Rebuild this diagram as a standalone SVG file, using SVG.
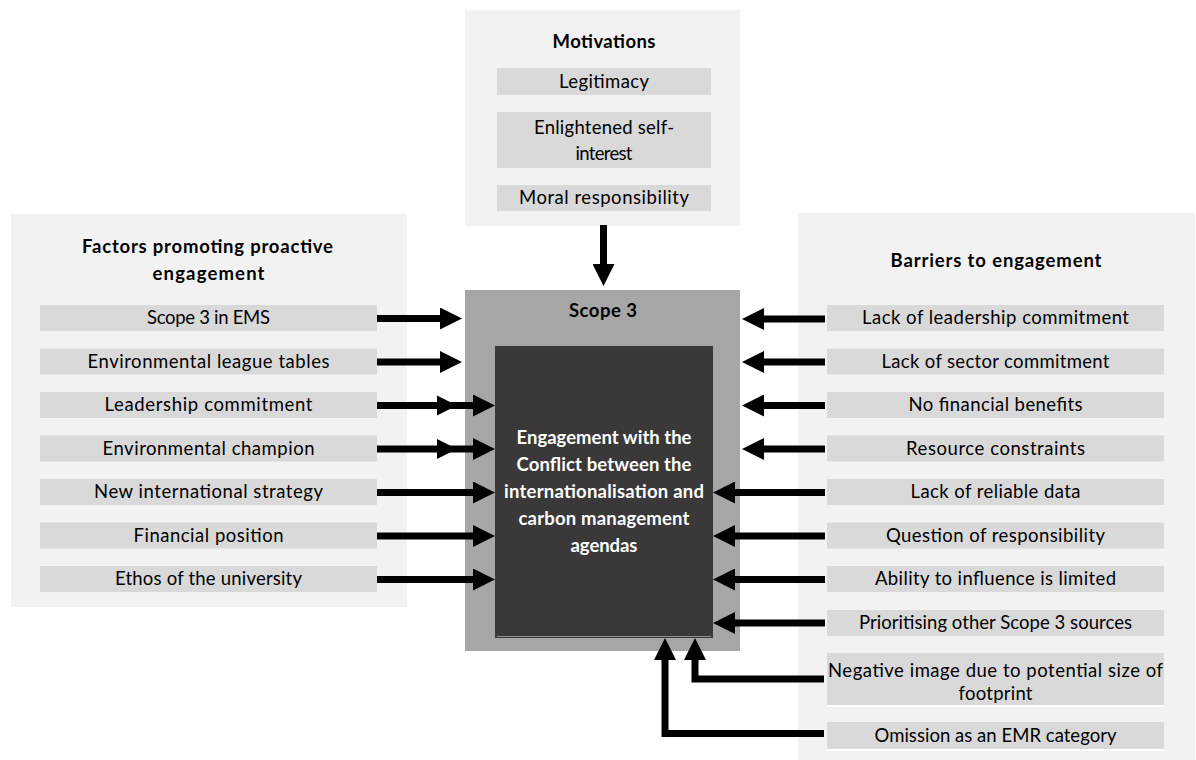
<svg xmlns="http://www.w3.org/2000/svg" width="1196" height="760" viewBox="0 0 1196 760">
  <defs>
    <style>
      .panel { fill: #f2f2f2; }
      .item { fill: #d9d9d9; }
      .txt { font-family: Lato, "Liberation Sans", sans-serif; font-size: 18.5px; fill: #000; text-anchor: middle; }
      .title { font-weight: bold; }
      .inv { fill: #ffffff; font-weight: bold; }
      .shaft { fill: none; stroke: #000; stroke-width: 7; stroke-linejoin: miter; stroke-linecap: butt; }
      .gap { fill: #ffffff; }
    </style>
    <marker id="head" markerUnits="userSpaceOnUse" viewBox="0 0 22 22" markerWidth="22" markerHeight="22" refX="0" refY="11" orient="auto">
      <path d="M0,0 L22,11 L0,22 Z" fill="#000"/>
    </marker>
  </defs>

  <rect width="1196" height="760" fill="#ffffff"/>

  <!-- Motivations column -->
  <g id="motivations">
    <rect class="panel" x="465" y="10" width="275" height="216"/>
    <text class="txt title" x="604" y="48" textLength="103" lengthAdjust="spacing">Motivations</text>
    <g id="mot-legitimacy">
      <rect class="item" x="497" y="68" width="214" height="27"/>
      <text class="txt" x="604" y="87.5" textLength="90" lengthAdjust="spacing">Legitimacy</text>
    </g>
    <g id="mot-self-interest">
      <rect class="item" x="497" y="112" width="214" height="56"/>
      <text class="txt" x="604" y="133.5" textLength="140" lengthAdjust="spacing">Enlightened self-</text>
      <text class="txt" x="604" y="160" textLength="57" lengthAdjust="spacing">interest</text>
    </g>
    <g id="mot-moral">
      <rect class="item" x="497" y="185" width="214" height="26"/>
      <text class="txt" x="604" y="204" textLength="170" lengthAdjust="spacing">Moral responsibility</text>
    </g>
  </g>

  <!-- Promoting factors column -->
  <g id="factors">
    <rect class="panel" x="11" y="214" width="396" height="393"/>
    <text class="txt title" x="207.5" y="252.7" textLength="251" lengthAdjust="spacing">Factors promoting proactive</text>
    <text class="txt title" x="208.5" y="280" textLength="112" lengthAdjust="spacing">engagement</text>
    <g id="f-ems">
      <rect class="item" x="40" y="305" width="337" height="26"/>
      <text class="txt" x="208.5" y="324.3" textLength="123" lengthAdjust="spacing">Scope 3 in EMS</text>
    </g>
    <g id="f-league">
      <rect class="item" x="40" y="348.5" width="337" height="26"/>
      <text class="txt" x="208.5" y="367.8" textLength="242" lengthAdjust="spacing">Environmental league tables</text>
    </g>
    <g id="f-leadership">
      <rect class="item" x="40" y="392" width="337" height="26"/>
      <text class="txt" x="208.5" y="411.3" textLength="208" lengthAdjust="spacing">Leadership commitment</text>
    </g>
    <g id="f-champion">
      <rect class="item" x="40" y="435.5" width="337" height="26"/>
      <text class="txt" x="208.5" y="454.8" textLength="212" lengthAdjust="spacing">Environmental champion</text>
    </g>
    <g id="f-strategy">
      <rect class="item" x="40" y="479" width="337" height="26"/>
      <text class="txt" x="208.5" y="498.3" textLength="229" lengthAdjust="spacing">New international strategy</text>
    </g>
    <g id="f-financial">
      <rect class="item" x="40" y="522.5" width="337" height="26"/>
      <text class="txt" x="208.5" y="541.8" textLength="150" lengthAdjust="spacing">Financial position</text>
    </g>
    <g id="f-ethos">
      <rect class="item" x="40" y="566" width="337" height="26"/>
      <text class="txt" x="208.5" y="585.3" textLength="187" lengthAdjust="spacing">Ethos of the university</text>
    </g>
  </g>

  <!-- Barriers column -->
  <g id="barriers">
    <rect class="panel" x="798" y="213" width="397" height="547"/>
    <text class="txt title" x="996" y="267" textLength="211" lengthAdjust="spacing">Barriers to engagement</text>
    <g id="b-leadership">
      <rect class="item" x="827" y="305" width="337" height="26"/>
      <text class="txt" x="995.5" y="324.3" textLength="267" lengthAdjust="spacing">Lack of leadership commitment</text>
    </g>
    <g id="b-sector">
      <rect class="item" x="827" y="348.5" width="337" height="26"/>
      <text class="txt" x="995.5" y="367.8" textLength="228" lengthAdjust="spacing">Lack of sector commitment</text>
    </g>
    <g id="b-benefits">
      <rect class="item" x="827" y="392" width="337" height="26"/>
      <text class="txt" x="995.5" y="411.3" textLength="174" lengthAdjust="spacing">No financial benefits</text>
    </g>
    <g id="b-resources">
      <rect class="item" x="827" y="435.5" width="337" height="26"/>
      <text class="txt" x="995.5" y="454.8" textLength="179" lengthAdjust="spacing">Resource constraints</text>
    </g>
    <g id="b-data">
      <rect class="item" x="827" y="479" width="337" height="26"/>
      <text class="txt" x="995.5" y="498.3" textLength="170" lengthAdjust="spacing">Lack of reliable data</text>
    </g>
    <g id="b-responsibility">
      <rect class="item" x="827" y="522.5" width="337" height="26"/>
      <text class="txt" x="995.5" y="541.8" textLength="219" lengthAdjust="spacing">Question of responsibility</text>
    </g>
    <g id="b-influence">
      <rect class="item" x="827" y="566" width="337" height="26"/>
      <text class="txt" x="995.5" y="585.3" textLength="241" lengthAdjust="spacing">Ability to influence is limited</text>
    </g>
    <g id="b-prioritising">
      <rect class="item" x="827" y="610" width="337" height="26"/>
      <text class="txt" x="995.5" y="629.3" textLength="273" lengthAdjust="spacing">Prioritising other Scope 3 sources</text>
    </g>
    <g id="b-image">
      <rect class="item" x="827" y="653" width="337" height="52"/>
      <rect class="gap" x="827" y="705" width="337" height="2"/>
      <text class="txt" x="995.5" y="677" textLength="335" lengthAdjust="spacing">Negative image due to potential size of</text>
      <text class="txt" x="995.5" y="700" textLength="74" lengthAdjust="spacing">footprint</text>
    </g>
    <g id="b-emr">
      <rect class="item" x="827" y="722" width="337" height="27"/>
      <rect class="gap" x="827" y="749" width="337" height="2"/>
      <text class="txt" x="995.5" y="742" textLength="242" lengthAdjust="spacing">Omission as an EMR category</text>
    </g>
  </g>

  <!-- Central Scope 3 block -->
  <g id="scope3">
    <rect x="465" y="290" width="275" height="361" fill="#a6a6a6"/>
    <text class="txt title" x="603" y="317" textLength="68" lengthAdjust="spacing">Scope 3</text>
    <g id="conflict">
      <rect x="495" y="346" width="218" height="292" fill="#3a3839"/>
      <line x1="497" y1="636.5" x2="711" y2="636.5" stroke="#8f8f8f" stroke-width="1"/>
      <text class="txt inv" x="604" y="444" textLength="175" lengthAdjust="spacing">Engagement with the</text>
      <text class="txt inv" x="604" y="471" textLength="175" lengthAdjust="spacing">Conflict between the</text>
      <text class="txt inv" x="604" y="498" textLength="200" lengthAdjust="spacing">internationalisation and</text>
      <text class="txt inv" x="604" y="525" textLength="171" lengthAdjust="spacing">carbon management</text>
      <text class="txt inv" x="604" y="552" textLength="67" lengthAdjust="spacing">agendas</text>
    </g>
  </g>

  <!-- Connectors -->
  <g id="connectors">
    <!-- motivations down into Scope 3 -->
    <path class="shaft" d="M603.5,225 V264" marker-end="url(#head)"/>

    <!-- promoting factors, left to right -->
    <path class="shaft" d="M377,318.5 H440" marker-end="url(#head)"/>
    <path class="shaft" d="M377,362 H440" marker-end="url(#head)"/>
    <path class="shaft" d="M377,405.5 H473" marker-end="url(#head)"/>
    <polygon points="437,395.5 457,405.5 437,415.5" fill="#000"/>
    <path class="shaft" d="M377,449 H473" marker-end="url(#head)"/>
    <polygon points="437,439 457,449 437,459" fill="#000"/>
    <path class="shaft" d="M377,492.5 H473" marker-end="url(#head)"/>
    <path class="shaft" d="M377,536 H473" marker-end="url(#head)"/>
    <path class="shaft" d="M377,579.5 H473" marker-end="url(#head)"/>

    <!-- barriers, right to left -->
    <path class="shaft" d="M825,319 H764" marker-end="url(#head)"/>
    <path class="shaft" d="M825,362 H764" marker-end="url(#head)"/>
    <path class="shaft" d="M825,405.5 H764" marker-end="url(#head)"/>
    <path class="shaft" d="M825,449 H764" marker-end="url(#head)"/>
    <path class="shaft" d="M825,492.5 H735" marker-end="url(#head)"/>
    <path class="shaft" d="M825,536 H735" marker-end="url(#head)"/>
    <path class="shaft" d="M825,579.5 H735" marker-end="url(#head)"/>
    <path class="shaft" d="M825,623 H735" marker-end="url(#head)"/>

    <!-- elbow connectors from the lower barriers -->
    <path class="shaft" d="M824,679 H695 V660" marker-end="url(#head)"/>
    <path class="shaft" d="M824,733.5 H665 V660" marker-end="url(#head)"/>
  </g>
</svg>
